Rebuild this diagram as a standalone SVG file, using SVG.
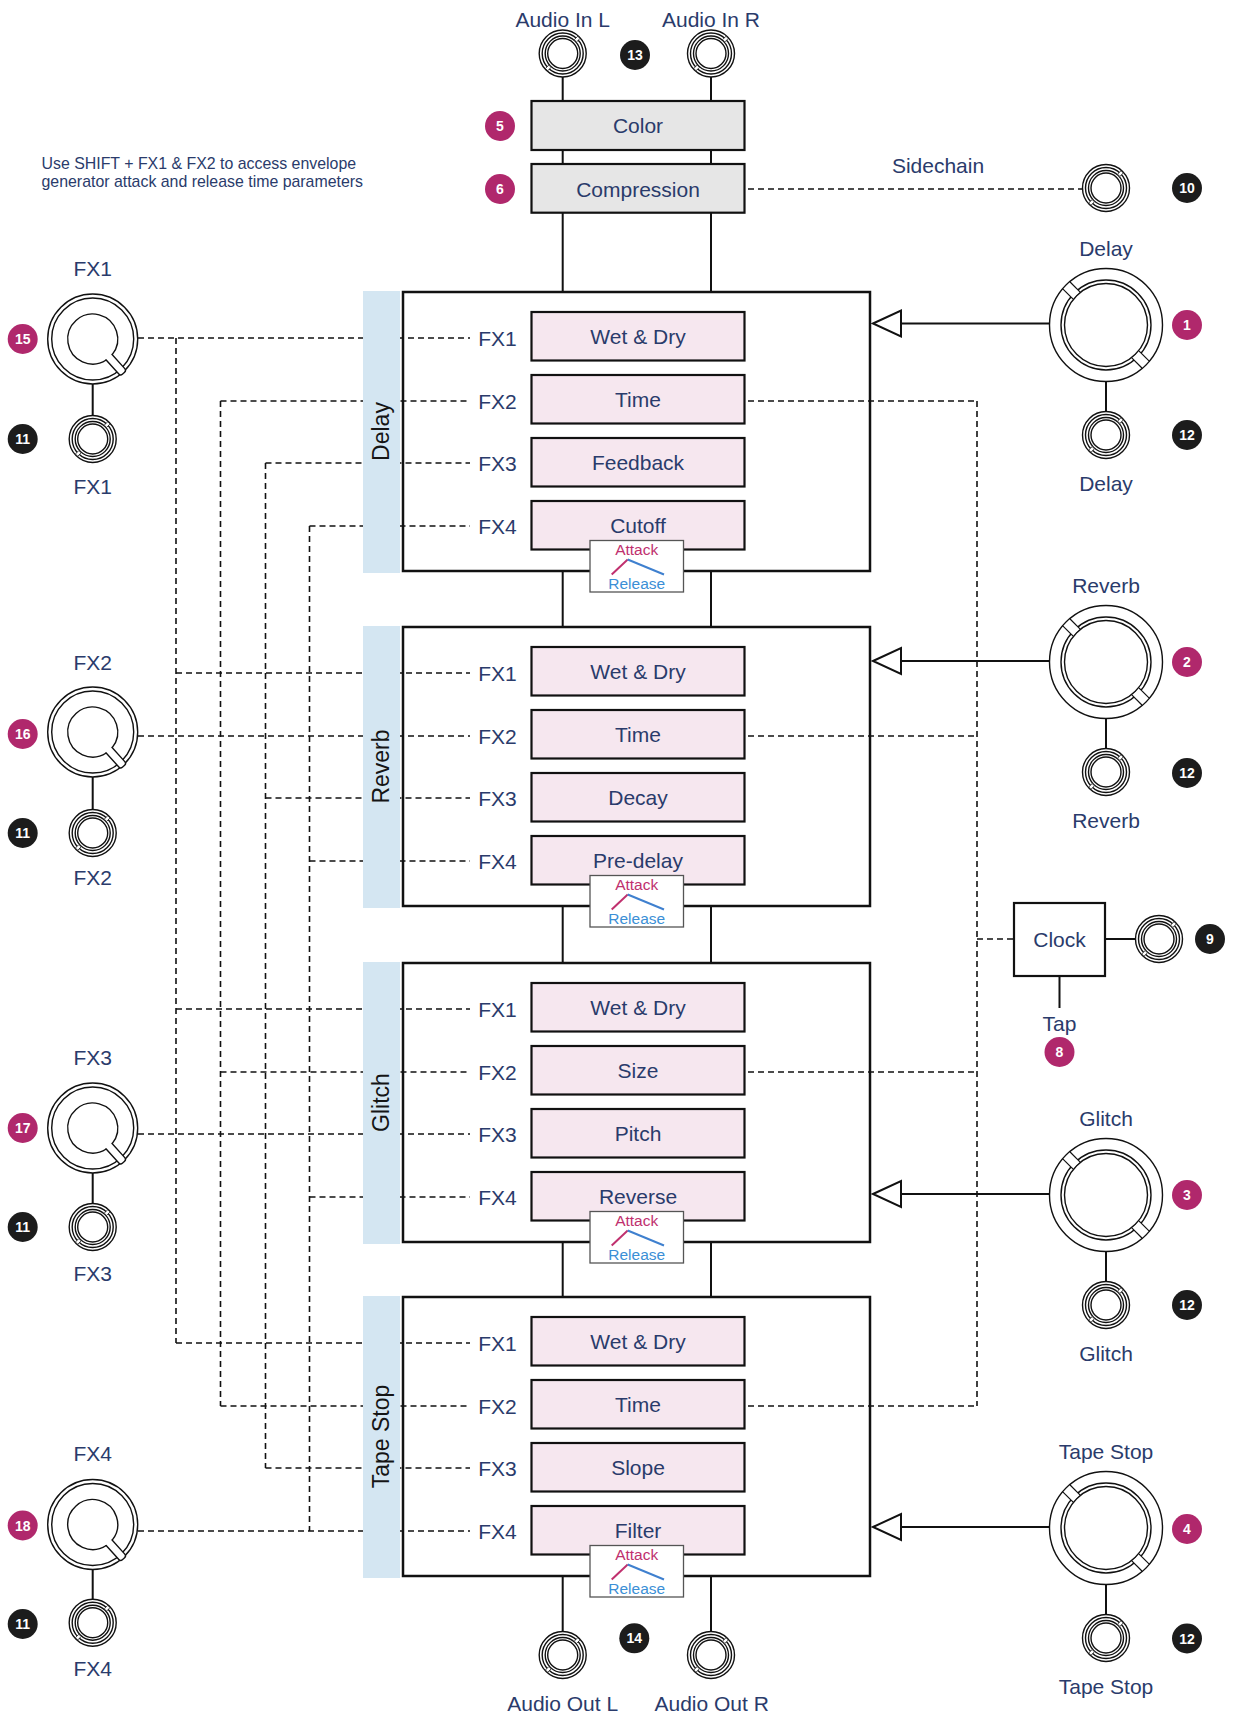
<svg xmlns="http://www.w3.org/2000/svg" xmlns:xlink="http://www.w3.org/1999/xlink" width="1233" height="1715" viewBox="0 0 1233 1715">
<style>
.t{font-family:"Liberation Sans",Arial,sans-serif;fill:#2a3b6b;font-size:21px}
.c{text-anchor:middle}
.n{font-size:15.9px}
.ttl{font-family:"Liberation Sans",Arial,sans-serif;fill:#151515;font-size:23px;text-anchor:middle}
.d{stroke:#111;stroke-width:1.6;stroke-dasharray:6 4;fill:none}
.s{stroke:#111;stroke-width:2;fill:none}
.ar{fill:#fff;stroke:#111;stroke-width:2}
.bm{fill:#b0286c}
.bk{fill:#1c1c1c}
.bt{font-family:"Liberation Sans",Arial,sans-serif;font-weight:bold;font-size:14px;fill:#fff;text-anchor:middle}
.pb{fill:#f6e7ef;stroke:#111;stroke-width:2.2}
.gb{fill:#e6e6e6;stroke:#111;stroke-width:2.2}
.fr{fill:none;stroke:#111;stroke-width:2.5}
.bar{fill:#d4e6f2}
.ab{fill:#fff;stroke:#555;stroke-width:1.3}
.att{font-family:"Liberation Sans",Arial,sans-serif;font-size:15.5px;fill:#c0306e;text-anchor:middle}
.rel{font-family:"Liberation Sans",Arial,sans-serif;font-size:15.5px;fill:#3b8fd6;text-anchor:middle}
.em{stroke:#c0306e;stroke-width:2;fill:none}
.eb{stroke:#3f80cf;stroke-width:2;fill:none}
.k{fill:#fff;stroke:#111;stroke-width:1.4}
.kn{fill:none;stroke:#111;stroke-width:1.4}
</style>
<defs>
<g id="jack">
<circle r="23.5" class="k" stroke-width="1.2"/>
<circle r="20.5" class="kn" stroke-width="1"/>
<circle r="17.5" class="kn" stroke-width="1.6"/>
<circle r="15" class="kn" stroke-width="1"/>
<rect transform="rotate(-45)" x="18" y="-1.6" width="4.8" height="3.2" fill="#fff" stroke="#111" stroke-width="0.7"/>
<rect transform="rotate(135)" x="18" y="-1.6" width="4.8" height="3.2" fill="#fff" stroke="#111" stroke-width="0.7"/>
</g>
<g id="bigknob">
<circle r="56.5" class="k"/>
<circle r="45" class="kn"/>
<circle r="41.5" class="kn"/>
<g transform="rotate(225)">
<rect x="42.4" y="-5" width="13.3" height="10" fill="#fff"/>
<line x1="41.5" y1="-5" x2="56.5" y2="-5" stroke="#111" stroke-width="1.2"/>
<line x1="41.5" y1="5" x2="56.5" y2="5" stroke="#111" stroke-width="1.2"/>
</g>
<g transform="rotate(45)">
<rect x="42.4" y="-5" width="13.3" height="10" fill="#fff"/>
<line x1="41.5" y1="-5" x2="56.5" y2="-5" stroke="#111" stroke-width="1.2"/>
<line x1="41.5" y1="5" x2="56.5" y2="5" stroke="#111" stroke-width="1.2"/>
</g>
</g>
<g id="fxknob">
<circle r="45" class="k"/>
<circle r="41" class="kn"/>
<rect transform="rotate(48)" x="18" y="-4" width="28" height="8" rx="2.5" fill="#fff" stroke="#111" stroke-width="1.4"/>
<circle r="24.3" fill="#fff"/>
<path d="M13.54 21.02 A25 25 0 1 1 19.48 15.68" class="kn"/>
</g>
</defs>
<rect width="1233" height="1715" fill="#fff"/>

<g id="connectors">
<path class="s" d="M562.7 77V101M711 77V101M562.7 150V164M711 150V164M562.7 212.7V292M711 212.7V292M562.7 571V627M711 571V627M562.7 906V963M711 906V963M562.7 1242V1297M711 1242V1297M562.7 1576V1631.5M711 1576V1631.5"/>
<path class="d" d="M138 338H470M176 338V1343M176 673H470M176 1009H470M176 1343H470"/>
<path class="d" d="M220.5 401H470M220.5 401V1406M138 736H470M220.5 1072H470M220.5 1406H470"/>
<path class="d" d="M265.5 463H470M265.5 463V1468M265.5 798H470M138 1134H470M265.5 1468H470"/>
<path class="d" d="M309.5 526H470M309.5 526V1531M309.5 861H470M309.5 1197H470M138 1531H470"/>
<path class="d" d="M748 401H977M748 736H977M748 1072H977M748 1406H977M977 401V1406M977 939H1014"/>
<path class="d" d="M748 189H1082.5"/>
<path class="s" stroke-width="1.6" d="M1106 381.5V411.5M1106 718.5V748.5M1106 1251.5V1281.5M1106 1584.5V1614.5M92.7 384V415.5M92.7 777V809.5M92.7 1173V1203.5M92.7 1569.5V1599.2"/>
<path class="s" stroke-width="1.6" d="M1105 939H1135.5M1059.5 976V1008"/>
<path class="s" d="M901 323.5H1049.5M901 661H1049.5M901 1194H1049.5M901 1527H1049.5"/>
<path class="ar" d="M873 323.5L901 310.5L901 336.5Z"/>
<path class="ar" d="M873 661L901 648L901 674Z"/>
<path class="ar" d="M873 1194L901 1181L901 1207Z"/>
<path class="ar" d="M873 1527L901 1514L901 1540Z"/>
</g>

<g id="note">
<text class="t n" x="41.5" y="168.5">Use SHIFT + FX1 &amp; FX2 to access envelope</text>
<text class="t n" x="41.5" y="186.5">generator attack and release time parameters</text>
</g>

<g id="audio-in-l">
<text class="t c" x="562.7" y="27">Audio In L</text>
<use xlink:href="#jack" href="#jack" x="562.7" y="53.5"/>
</g>
<g id="audio-in-r">
<text class="t c" x="711" y="27">Audio In R</text>
<use xlink:href="#jack" href="#jack" x="711" y="53.5"/>
</g>
<g id="badge-13"><circle cx="635" cy="55" r="15" class="bk"/><text class="bt" x="635" y="60">13</text></g>

<g id="color">
<rect class="gb" x="531.5" y="101" width="213" height="49"/>
<text class="t c" x="638" y="133">Color</text>
<circle cx="500" cy="126" r="15" class="bm"/><text class="bt" x="500" y="131">5</text>
</g>
<g id="compression">
<rect class="gb" x="531.5" y="164" width="213" height="48.7"/>
<text class="t c" x="638" y="196.5">Compression</text>
<circle cx="500" cy="189" r="15" class="bm"/><text class="bt" x="500" y="194">6</text>
</g>

<g id="sidechain">
<text class="t c" x="938" y="173">Sidechain</text>
<use xlink:href="#jack" href="#jack" x="1106" y="188"/>
<circle cx="1187" cy="188" r="15" class="bk"/><text class="bt" x="1187" y="193">10</text>
</g>

<g id="sec-delay">
<rect class="bar" x="363" y="291" width="37" height="282"/>
<rect class="fr" x="403" y="292" width="467" height="279"/>
<text class="ttl" transform="translate(381.5,431.5) rotate(-90)" y="7">Delay</text>
<text class="t c" x="497.5" y="345.5">FX1</text>
<text class="t c" x="497.5" y="408.5">FX2</text>
<text class="t c" x="497.5" y="470.5">FX3</text>
<text class="t c" x="497.5" y="533.5">FX4</text>
<g id="delay-wetdry"><rect class="pb" x="531.5" y="312" width="213" height="48.5"/><text class="t c" x="638" y="343.8">Wet &amp; Dry</text></g>
<g id="delay-time"><rect class="pb" x="531.5" y="375" width="213" height="48.5"/><text class="t c" x="638" y="406.8">Time</text></g>
<g id="delay-feedback"><rect class="pb" x="531.5" y="438" width="213" height="48.5"/><text class="t c" x="638" y="469.8">Feedback</text></g>
<g id="delay-cutoff"><rect class="pb" x="531.5" y="501" width="213" height="48.5"/><text class="t c" x="638" y="532.8">Cutoff</text></g>
<g id="delay-env"><rect class="ab" x="590" y="540.5" width="93.5" height="51.5"/><text class="att" x="636.7" y="554.8">Attack</text><path class="em" d="M611.7 574.5L627.7 559.5"/><path class="eb" d="M627.7 559.5L664 574.5"/><text class="rel" x="636.7" y="588.8">Release</text></g>
</g>

<g id="sec-reverb">
<rect class="bar" x="363" y="626" width="37" height="282"/>
<rect class="fr" x="403" y="627" width="467" height="279"/>
<text class="ttl" transform="translate(381.5,766.5) rotate(-90)" y="7">Reverb</text>
<text class="t c" x="497.5" y="680.5">FX1</text>
<text class="t c" x="497.5" y="743.5">FX2</text>
<text class="t c" x="497.5" y="805.5">FX3</text>
<text class="t c" x="497.5" y="868.5">FX4</text>
<g id="reverb-wetdry"><rect class="pb" x="531.5" y="647" width="213" height="48.5"/><text class="t c" x="638" y="678.8">Wet &amp; Dry</text></g>
<g id="reverb-time"><rect class="pb" x="531.5" y="710" width="213" height="48.5"/><text class="t c" x="638" y="741.8">Time</text></g>
<g id="reverb-decay"><rect class="pb" x="531.5" y="773" width="213" height="48.5"/><text class="t c" x="638" y="804.8">Decay</text></g>
<g id="reverb-predelay"><rect class="pb" x="531.5" y="836" width="213" height="48.5"/><text class="t c" x="638" y="867.8">Pre-delay</text></g>
<g id="reverb-env"><rect class="ab" x="590" y="875.5" width="93.5" height="51.5"/><text class="att" x="636.7" y="889.8">Attack</text><path class="em" d="M611.7 909.5L627.7 894.5"/><path class="eb" d="M627.7 894.5L664 909.5"/><text class="rel" x="636.7" y="923.8">Release</text></g>
</g>

<g id="sec-glitch">
<rect class="bar" x="363" y="962" width="37" height="282"/>
<rect class="fr" x="403" y="963" width="467" height="279"/>
<text class="ttl" transform="translate(381.5,1102.5) rotate(-90)" y="7">Glitch</text>
<text class="t c" x="497.5" y="1016.5">FX1</text>
<text class="t c" x="497.5" y="1079.5">FX2</text>
<text class="t c" x="497.5" y="1141.5">FX3</text>
<text class="t c" x="497.5" y="1204.5">FX4</text>
<g id="glitch-wetdry"><rect class="pb" x="531.5" y="983" width="213" height="48.5"/><text class="t c" x="638" y="1014.8">Wet &amp; Dry</text></g>
<g id="glitch-size"><rect class="pb" x="531.5" y="1046" width="213" height="48.5"/><text class="t c" x="638" y="1077.8">Size</text></g>
<g id="glitch-pitch"><rect class="pb" x="531.5" y="1109" width="213" height="48.5"/><text class="t c" x="638" y="1140.8">Pitch</text></g>
<g id="glitch-reverse"><rect class="pb" x="531.5" y="1172" width="213" height="48.5"/><text class="t c" x="638" y="1203.8">Reverse</text></g>
<g id="glitch-env"><rect class="ab" x="590" y="1211.5" width="93.5" height="51.5"/><text class="att" x="636.7" y="1225.8">Attack</text><path class="em" d="M611.7 1245.5L627.7 1230.5"/><path class="eb" d="M627.7 1230.5L664 1245.5"/><text class="rel" x="636.7" y="1259.8">Release</text></g>
</g>

<g id="sec-tapestop">
<rect class="bar" x="363" y="1296" width="37" height="282"/>
<rect class="fr" x="403" y="1297" width="467" height="279"/>
<text class="ttl" transform="translate(381.5,1436.5) rotate(-90)" y="7">Tape Stop</text>
<text class="t c" x="497.5" y="1350.5">FX1</text>
<text class="t c" x="497.5" y="1413.5">FX2</text>
<text class="t c" x="497.5" y="1475.5">FX3</text>
<text class="t c" x="497.5" y="1538.5">FX4</text>
<g id="tape-wetdry"><rect class="pb" x="531.5" y="1317" width="213" height="48.5"/><text class="t c" x="638" y="1348.8">Wet &amp; Dry</text></g>
<g id="tape-time"><rect class="pb" x="531.5" y="1380" width="213" height="48.5"/><text class="t c" x="638" y="1411.8">Time</text></g>
<g id="tape-slope"><rect class="pb" x="531.5" y="1443" width="213" height="48.5"/><text class="t c" x="638" y="1474.8">Slope</text></g>
<g id="tape-filter"><rect class="pb" x="531.5" y="1506" width="213" height="48.5"/><text class="t c" x="638" y="1537.8">Filter</text></g>
<g id="tape-env"><rect class="ab" x="590" y="1545.5" width="93.5" height="51.5"/><text class="att" x="636.7" y="1559.8">Attack</text><path class="em" d="M611.7 1579.5L627.7 1564.5"/><path class="eb" d="M627.7 1564.5L664 1579.5"/><text class="rel" x="636.7" y="1593.8">Release</text></g>
</g>

<g id="knob-delay">
<text class="t c" x="1106" y="256">Delay</text>
<use xlink:href="#bigknob" href="#bigknob" x="1106" y="325"/>
<circle cx="1187" cy="325" r="15" class="bm"/><text class="bt" x="1187" y="330">1</text>
<use xlink:href="#jack" href="#jack" x="1106" y="435"/>
<circle cx="1187" cy="435" r="15" class="bk"/><text class="bt" x="1187" y="440">12</text>
<text class="t c" x="1106" y="490.5">Delay</text>
</g>
<g id="knob-reverb">
<text class="t c" x="1106" y="593">Reverb</text>
<use xlink:href="#bigknob" href="#bigknob" x="1106" y="662"/>
<circle cx="1187" cy="662" r="15" class="bm"/><text class="bt" x="1187" y="667">2</text>
<use xlink:href="#jack" href="#jack" x="1106" y="772"/>
<circle cx="1187" cy="773" r="15" class="bk"/><text class="bt" x="1187" y="778">12</text>
<text class="t c" x="1106" y="828">Reverb</text>
</g>
<g id="knob-glitch">
<text class="t c" x="1106" y="1125.5">Glitch</text>
<use xlink:href="#bigknob" href="#bigknob" x="1106" y="1195"/>
<circle cx="1187" cy="1195" r="15" class="bm"/><text class="bt" x="1187" y="1200">3</text>
<use xlink:href="#jack" href="#jack" x="1106" y="1305"/>
<circle cx="1187" cy="1305" r="15" class="bk"/><text class="bt" x="1187" y="1310">12</text>
<text class="t c" x="1106" y="1360.5">Glitch</text>
</g>
<g id="knob-tapestop">
<text class="t c" x="1106" y="1459">Tape Stop</text>
<use xlink:href="#bigknob" href="#bigknob" x="1106" y="1528"/>
<circle cx="1187" cy="1529" r="15" class="bm"/><text class="bt" x="1187" y="1534">4</text>
<use xlink:href="#jack" href="#jack" x="1106" y="1638"/>
<circle cx="1187" cy="1638.5" r="15" class="bk"/><text class="bt" x="1187" y="1643.5">12</text>
<text class="t c" x="1106" y="1694">Tape Stop</text>
</g>

<g id="clock">
<rect x="1014" y="903" width="91" height="73" fill="#fff" stroke="#111" stroke-width="2.2"/>
<text class="t c" x="1059.5" y="947">Clock</text>
<use xlink:href="#jack" href="#jack" x="1159" y="939"/>
<circle cx="1210" cy="939" r="15" class="bk"/><text class="bt" x="1210" y="944">9</text>
</g>
<g id="tap">
<text class="t c" x="1059.5" y="1030.5">Tap</text>
<circle cx="1059.5" cy="1052" r="15" class="bm"/><text class="bt" x="1059.5" y="1057">8</text>
</g>

<g id="fx1">
<text class="t c" x="92.7" y="276">FX1</text>
<use xlink:href="#fxknob" href="#fxknob" x="92.7" y="339"/>
<circle cx="22.7" cy="339" r="15" class="bm"/><text class="bt" x="22.7" y="344">15</text>
<use xlink:href="#jack" href="#jack" x="92.7" y="439"/>
<circle cx="22.7" cy="439" r="15" class="bk"/><text class="bt" x="22.7" y="444">11</text>
<text class="t c" x="92.7" y="494">FX1</text>
</g>
<g id="fx2">
<text class="t c" x="92.7" y="669.5">FX2</text>
<use xlink:href="#fxknob" href="#fxknob" x="92.7" y="732"/>
<circle cx="22.7" cy="734" r="15" class="bm"/><text class="bt" x="22.7" y="739">16</text>
<use xlink:href="#jack" href="#jack" x="92.7" y="833"/>
<circle cx="22.7" cy="833" r="15" class="bk"/><text class="bt" x="22.7" y="838">11</text>
<text class="t c" x="92.7" y="884.5">FX2</text>
</g>
<g id="fx3">
<text class="t c" x="92.7" y="1064.5">FX3</text>
<use xlink:href="#fxknob" href="#fxknob" x="92.7" y="1128"/>
<circle cx="22.7" cy="1128" r="15" class="bm"/><text class="bt" x="22.7" y="1133">17</text>
<use xlink:href="#jack" href="#jack" x="92.7" y="1227"/>
<circle cx="22.7" cy="1227" r="15" class="bk"/><text class="bt" x="22.7" y="1232">11</text>
<text class="t c" x="92.7" y="1280.5">FX3</text>
</g>
<g id="fx4">
<text class="t c" x="92.7" y="1461">FX4</text>
<use xlink:href="#fxknob" href="#fxknob" x="92.7" y="1524.5"/>
<circle cx="22.7" cy="1525.5" r="15" class="bm"/><text class="bt" x="22.7" y="1530.5">18</text>
<use xlink:href="#jack" href="#jack" x="92.7" y="1622.7"/>
<circle cx="22.7" cy="1624" r="15" class="bk"/><text class="bt" x="22.7" y="1629">11</text>
<text class="t c" x="92.7" y="1676">FX4</text>
</g>

<g id="audio-out-l">
<use xlink:href="#jack" href="#jack" x="562.7" y="1655"/>
<text class="t c" x="562.7" y="1710.7">Audio Out L</text>
</g>
<g id="audio-out-r">
<use xlink:href="#jack" href="#jack" x="711" y="1655"/>
<text class="t c" x="711.7" y="1710.7">Audio Out R</text>
</g>
<g id="badge-14"><circle cx="634.3" cy="1638.3" r="15" class="bk"/><text class="bt" x="634.3" y="1643.3">14</text></g>
</svg>
